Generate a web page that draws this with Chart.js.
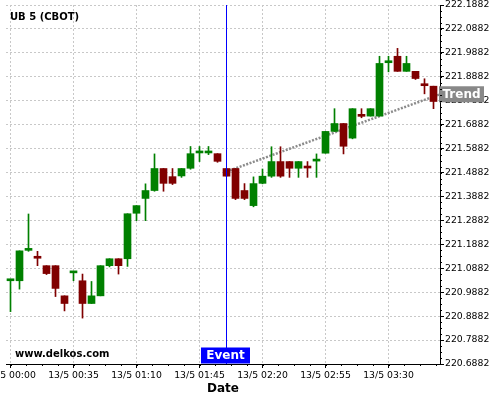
<!DOCTYPE html>
<html>
<head>
<meta charset="utf-8">
<script src="https://cdn.jsdelivr.net/npm/chart.js@4/dist/chart.umd.min.js"></script>
<style>
  html, body { margin: 0; padding: 0; background: #fff; }
</style>
</head>
<body>
<canvas id="ub-chart" width="500" height="400"></canvas>
<script>
// 5 minute bars, 13/5
var times = ["00:00","00:05","00:10","00:15","00:20","00:25","00:30","00:35","00:40","00:45","00:50","00:55",
             "01:00","01:05","01:10","01:15","01:20","01:25","01:30","01:35","01:40","01:45","01:50","01:55",
             "02:00","02:05","02:10","02:15","02:20","02:25","02:30","02:35","02:40","02:45","02:50","02:55",
             "03:00","03:05","03:10","03:15","03:20","03:25","03:30","03:35","03:40","03:45","03:50","03:55"];

var open  = [221.036,221.036,221.163,221.131,221.099,221.099,220.973,221.069,221.036,220.941,220.973,221.099,
             221.128,221.128,221.318,221.380,221.413,221.505,221.471,221.474,221.506,221.570,221.570,221.567,
             221.505,221.505,221.413,221.350,221.443,221.473,221.534,221.534,221.506,221.508,221.536,221.569,
             221.660,221.693,221.632,221.724,221.724,221.724,221.947,221.974,221.911,221.911,221.852,221.849];
var high  = [221.038,221.161,221.315,221.159,221.099,221.099,220.973,221.070,221.064,221.033,221.099,221.128,
             221.128,221.316,221.350,221.441,221.566,221.505,221.505,221.505,221.597,221.597,221.597,221.567,
             221.505,221.505,221.442,221.470,221.503,221.596,221.596,221.534,221.534,221.534,221.566,221.660,
             221.755,221.693,221.755,221.755,221.755,221.974,221.974,222.007,221.974,221.911,221.880,221.849];
var low   = [220.907,221.001,221.159,221.099,221.062,220.970,220.910,221.036,220.880,220.941,220.973,221.094,
             221.064,221.096,221.287,221.287,221.410,221.410,221.438,221.468,221.502,221.534,221.563,221.531,
             221.473,221.375,221.375,221.345,221.441,221.468,221.468,221.468,221.468,221.468,221.468,221.569,
             221.660,221.566,221.629,221.717,221.724,221.724,221.909,221.911,221.911,221.877,221.817,221.755];
var close = [221.038,221.161,221.164,221.130,221.066,221.004,220.941,221.070,220.941,220.973,221.099,221.128,
             221.099,221.316,221.350,221.413,221.505,221.443,221.443,221.505,221.567,221.571,221.571,221.535,
             221.473,221.380,221.380,221.442,221.473,221.534,221.473,221.506,221.534,221.507,221.537,221.660,
             221.693,221.598,221.755,221.723,221.755,221.944,221.948,221.911,221.944,221.881,221.851,221.785];

var xTickLabels = ["13/5 00:00","13/5 00:35","13/5 01:10","13/5 01:45","13/5 02:20","13/5 02:55","13/5 03:30"];
var yTicks = [220.6882,220.7882,220.8882,220.9882,221.0882,221.1882,221.2882,221.3882,
              221.4882,221.5882,221.6882,221.7882,221.8882,221.9882,222.0882,222.1882];

var eventTime = "02:00";
var trendBars = [24, 48];
var trendValues = [221.492, 221.819];

var xTickIdx = xTickLabels.map(l => times.indexOf(l.slice(5)));
var eventIdx = times.indexOf(eventTime);
var candleColors = close.map((c, i) => c >= open[i] ? "#008000" : "#800000");

Chart.defaults.font.family = "'DejaVu Sans', sans-serif";
Chart.defaults.color = "#000";

// minor ticks, text labels, event marker
var extras = {
    id: "extras",
    afterDatasetsDraw(chart) {
        const {ctx, chartArea: a, scales: {x, y}} = chart;
        ctx.save();

        // event line
        const ex = x.getPixelForValue(eventIdx);
        ctx.strokeStyle = "#0000ff";
        ctx.lineWidth = 1;
        ctx.beginPath();
        ctx.moveTo(ex, a.top);
        ctx.lineTo(ex, a.bottom);
        ctx.stroke();

        ctx.fillStyle = "#000";
        ctx.font = "bold 10px 'DejaVu Sans'";
        ctx.textAlign = "left";
        ctx.textBaseline = "alphabetic";
        ctx.fillText("UB 5 (CBOT)", 10, 20);
        ctx.fillText("www.delkos.com", 15, 357);

        // event box
        ctx.fillStyle = "#0000ff";
        ctx.fillRect(ex - 25.5, a.bottom - 16.5, 49, 16);
        ctx.fillStyle = "#fff";
        ctx.font = "bold 12px 'DejaVu Sans'";
        ctx.textAlign = "center";
        ctx.textBaseline = "middle";
        ctx.fillText("Event", ex - 1, a.bottom - 8);

        // trend box at the right edge
        const t = (x.max - trendBars[0]) / (trendBars[1] - trendBars[0]);
        const ty = y.getPixelForValue(trendValues[0] + t * (trendValues[1] - trendValues[0]));
        ctx.fillStyle = "#888";
        ctx.fillRect(a.right - 1, ty - 8, 45, 16);
        ctx.fillStyle = "#fff";
        ctx.fillText("Trend", a.right + 21.5, ty + 0.5);

        // minor ticks
        ctx.strokeStyle = "#000";
        ctx.beginPath();
        for (let v = yTicks[0]; v < y.max; v += 0.025) {
            const py = Math.round(y.getPixelForValue(v)) + 0.5;
            ctx.moveTo(a.right, py);
            ctx.lineTo(a.right + 2, py);
        }
        for (let v = x.min + 0.5; v < x.max; v += 1.75) {
            const px = Math.round(x.getPixelForValue(v)) + 0.5;
            ctx.moveTo(px, a.bottom);
            ctx.lineTo(px, a.bottom + 2);
        }
        ctx.stroke();
        ctx.restore();
    }
};

var gridOpts = { color: "#c8c8c8", tickColor: "#000", tickLength: 4, lineWidth: 1, offset: false };
var borderOpts = { color: "#000", width: 1, dash: [2, 2] };

var chart = new Chart(document.getElementById("ub-chart"), {
    type: "bar",
    data: {
        datasets: [{
            label: "body",
            data: times.map((t, i) => ({x: i, y: [open[i], close[i]]})),
            backgroundColor: candleColors,
            barThickness: 7,
            minBarLength: 2,
            grouped: false,
            order: 0
        }, {
            label: "wick",
            data: times.map((t, i) => ({x: i, y: [low[i], high[i]]})),
            backgroundColor: candleColors,
            barThickness: 1,
            grouped: false,
            order: 1
        }, {
            type: "line",
            label: "Trend",
            data: trendBars.map((b, i) => ({x: b, y: trendValues[i]})),
            borderColor: "#8c8c8c",
            borderWidth: 2.5,
            borderDash: [2, 1.5],
            pointRadius: 0,
            clip: 0,
            order: 2
        }]
    },
    options: {
        responsive: false,
        animation: false,
        layout: { autoPadding: false, padding: { left: 6, top: 5, right: 0, bottom: 0 } },
        plugins: { legend: { display: false }, tooltip: { enabled: false } },
        scales: {
            x: {
                type: "linear",
                offset: false,
                min: -0.5,
                max: -0.5 + 434 / 9,
                afterBuildTicks: s => { s.ticks = xTickIdx.map(v => ({value: v})); },
                afterFit: s => { s.height = 36; s.paddingLeft = 0; s.paddingRight = 0; },
                ticks: {
                    callback: (v, i) => xTickLabels[i],
                    font: { size: 9.3 },
                    padding: 2,
                    maxRotation: 0,
                    autoSkip: false
                },
                grid: gridOpts,
                border: borderOpts,
                title: { display: true, text: "Date", font: { size: 12, weight: "bold" }, padding: { top: 0, bottom: 4 } }
            },
            y: {
                type: "linear",
                position: "right",
                min: yTicks[0],
                max: yTicks[yTicks.length - 1],
                afterBuildTicks: s => { s.ticks = yTicks.map(v => ({value: v})); },
                afterFit: s => { s.width = 60; s.paddingTop = 0; s.paddingBottom = 0; },
                ticks: {
                    callback: v => v.toFixed(4),
                    font: { size: 9.3 },
                    padding: 1,
                    autoSkip: false
                },
                grid: gridOpts,
                border: borderOpts
            }
        }
    },
    plugins: [extras]
});
</script>
</body>
</html>
